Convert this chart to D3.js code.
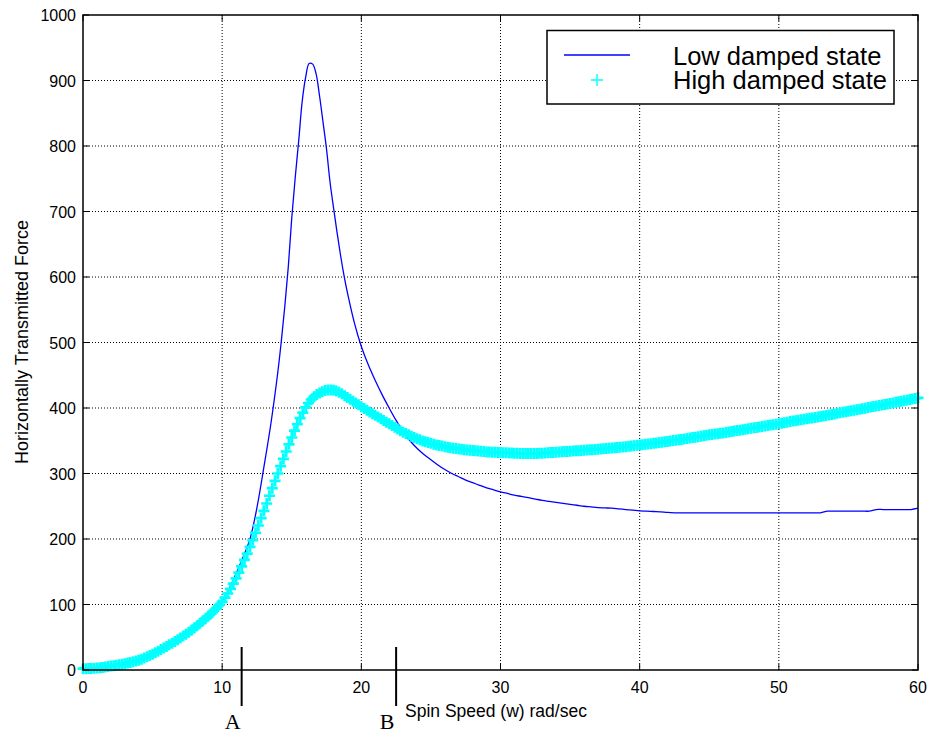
<!DOCTYPE html>
<html>
<head>
<meta charset="utf-8">
<script src="https://d3js.org/d3.v7.min.js"></script>
<style>
  html, body { margin: 0; padding: 0; background: #fff; }
  svg { display: block; }
  text { font-family: "Liberation Sans", Arial, Helvetica, sans-serif; fill: #000; }
</style>
</head>
<body>
<svg id="chart" width="929" height="735"></svg>
<script>
// Spin speed (rad/sec) sampling for each response curve
const lowSpeed = [
  ...d3.range(0, 14, 0.5),
  ...d3.range(14, 19, 0.25),
  ...d3.range(19, 60.001, 0.5)
];
const highSpeed = d3.range(0, 60.001, 0.2);

// Horizontally transmitted force, low damped state
const lowForce = [
  // 0 .. 13.5 (every 0.5)
  0, 0.3, 1, 2.3, 4, 6.2, 9, 12, 15.5, 19.5,
  24, 29, 35, 41, 48, 56, 64, 73, 83, 94,
  106, 124, 147, 172, 200, 248, 310, 376,
  // 14 .. 18.75 (every 0.25), resonance peak
  455, 502, 555, 615, 690, 752, 808, 868, 905, 926,
  925, 910, 876, 836, 795, 745, 706, 669, 634, 603,
  // 19 .. 60 (every 0.5)
  576, 530, 494, 466, 442, 420, 400, 381, 364, 350,
  338.5, 329, 321, 313, 306, 300, 295, 290, 286, 282,
  278, 275, 272, 269.5, 267, 265, 263, 261, 259, 257.5,
  256, 254.5, 253, 251.5, 250, 249, 248, 247.5, 247, 246,
  245, 244, 243, 242.5, 242, 241.5, 240.5,
  240, 240, 240, 240, 240, 240, 240, 240, 240, 240, 240,
  240, 240, 240, 240, 240, 240, 240, 240, 240, 240, 240,
  242.5, 242.5, 242.5, 242.5, 242.5, 242.5, 242.5,
  245, 245, 245, 245, 245, 245,
  247
];

// Horizontally transmitted force, high damped state (every 0.2 rad/sec)
const highForce = [
  2, 2, 2.1, 2.3, 2.6,
  3, 3.4, 3.9, 4.5, 5.2,
  6, 6.6, 7.3, 8, 8.7,
  9.5, 10.5, 11.5, 12.6, 13.8,
  15, 16.6, 18.3, 20.1, 22,
  24, 26.4, 28.8, 31.2, 33.6,
  36, 38.4, 40.8, 43.4, 46.2,
  49, 51.8, 54.6, 57.6, 60.8,
  64, 67.6, 71.2, 74.8, 78.4,
  82, 86, 90.3, 94.6, 99.2,
  104, 110.4, 116.8, 124, 132,
  140, 148.8, 158.2, 168, 177.6,
  188, 198.4, 209.4, 220.6, 231.8,
  243, 254.2, 266, 277.6, 288.8,
  300, 311.2, 322.4, 333.6, 344.6,
  355, 365.4, 375.2, 384.4, 393,
  401, 407.6, 413, 417.2, 420.8,
  423, 425, 426.6, 427.3, 427.4,
  427, 425.8, 424, 421.6, 418.8,
  416, 413.2, 410.4, 407.6, 404.8,
  402, 399.2, 396.6, 394, 391.4,
  389, 386.2, 383.6, 381, 378.4,
  376, 373.2, 370.6, 368, 365.4,
  363, 361, 359, 357, 355,
  353, 351.4, 349.8, 348.4, 347.2,
  346, 344.8, 343.7, 342.7, 341.8,
  341, 340.2, 339.4, 338.7, 338.1,
  337.5, 336.9, 336.4, 335.9, 335.4,
  335, 334.6, 334.2, 333.8, 333.4,
  333, 332.8, 332.6, 332.4, 332.2,
  332, 331.8, 331.6, 331.4, 331.2,
  331, 330.8, 330.7, 330.6, 330.5,
  330.5, 330.5, 330.6, 330.7, 330.8,
  331, 331.3, 331.6, 331.9, 332.2,
  332.5, 332.8, 333.1, 333.4, 333.7,
  334, 334.3, 334.6, 334.9, 335.2,
  335.5, 335.8, 336.1, 336.4, 336.7,
  337, 337.4, 337.8, 338.2, 338.6,
  339, 339.4, 339.8, 340.2, 340.6,
  341, 341.5, 342, 342.5, 343,
  343.5, 344, 344.5, 345, 345.5,
  346, 346.6, 347.2, 347.8, 348.4,
  349, 349.6, 350.2, 350.8, 351.4,
  352, 352.7, 353.4, 354.1, 354.8,
  355.5, 356.2, 356.9, 357.6, 358.3,
  359, 359.6, 360.2, 360.8, 361.4,
  362, 362.7, 363.4, 364.1, 364.8,
  365.5, 366.2, 366.9, 367.6, 368.3,
  369, 369.7, 370.4, 371.1, 371.8,
  372.5, 373.2, 373.9, 374.6, 375.3,
  376, 376.8, 377.6, 378.4, 379.2,
  380, 380.7, 381.4, 382.1, 382.8,
  383.5, 384.2, 384.9, 385.6, 386.3,
  387, 387.8, 388.6, 389.4, 390.2,
  391, 391.8, 392.6, 393.4, 394.2,
  395, 395.8, 396.6, 397.4, 398.2,
  399, 399.8, 400.6, 401.4, 402.2,
  403, 403.8, 404.6, 405.4, 406.2,
  407, 407.8, 408.6, 409.4, 410.2,
  411, 411.9, 412.8, 413.7, 414.6,
  415.5
];

const xTicks = [0, 10, 20, 30, 40, 50, 60];
const yTicks = [0, 100, 200, 300, 400, 500, 600, 700, 800, 900, 1000];
const seriesNames = ["Low damped state", "High damped state"];
const markerLabels = ["A", "B"];
const markerSpeeds = [11.4, 22.5];

const xLabel = "Spin Speed (w) rad/sec";
const yLabel = "Horizontally Transmitted Force";

const svg = d3.select("#chart");
const plot = { left: 83, top: 15, right: 918, bottom: 670 };

const x = d3.scaleLinear().domain([0, 60]).range([plot.left, plot.right]);
const y = d3.scaleLinear().domain([0, 1000]).range([plot.bottom, plot.top]);

// dotted grid
const grid = svg.append("g");
grid.selectAll("line.gx").data(xTicks.slice(1, -1)).enter().append("line")
  .attr("x1", d => x(d)).attr("x2", d => x(d))
  .attr("y1", plot.top).attr("y2", plot.bottom)
  .attr("stroke", "#000").attr("stroke-width", 1).attr("stroke-dasharray", "1,2");
grid.selectAll("line.gy").data(yTicks.slice(1, -1)).enter().append("line")
  .attr("x1", plot.left).attr("x2", plot.right)
  .attr("y1", d => y(d)).attr("y2", d => y(d))
  .attr("stroke", "#000").attr("stroke-width", 1).attr("stroke-dasharray", "1,2");

// low damped state: solid blue line
const line = d3.line()
  .x((d, i) => x(lowSpeed[i]))
  .y(d => y(d))
  .curve(d3.curveCatmullRom.alpha(0.5));
svg.append("path")
  .datum(lowForce)
  .attr("d", line)
  .attr("fill", "none")
  .attr("stroke", "#0000ff")
  .attr("stroke-width", 1.3);

// high damped state: cyan "+" markers
const plus = s => `M${-s},0H${s}M0,${-s}V${s}`;
svg.append("g").selectAll("path")
  .data(highForce).enter().append("path")
  .attr("transform", (d, i) => `translate(${x(highSpeed[i])},${y(d)})`)
  .attr("d", plus(5.5))
  .attr("fill", "none")
  .attr("stroke", "#00ffff")
  .attr("stroke-width", 2.7);

// axes box with inward ticks on all sides
const axes = svg.append("g");
axes.append("rect")
  .attr("x", plot.left).attr("y", plot.top)
  .attr("width", plot.right - plot.left).attr("height", plot.bottom - plot.top)
  .attr("fill", "none").attr("stroke", "#000").attr("stroke-width", 1.5);

const tickLen = 6;
xTicks.forEach(t => {
  axes.append("line").attr("x1", x(t)).attr("x2", x(t))
    .attr("y1", plot.bottom).attr("y2", plot.bottom - tickLen).attr("stroke", "#000");
  axes.append("line").attr("x1", x(t)).attr("x2", x(t))
    .attr("y1", plot.top).attr("y2", plot.top + tickLen).attr("stroke", "#000");
  axes.append("text").attr("x", x(t)).attr("y", 693)
    .attr("text-anchor", "middle").attr("font-size", 16).text(t);
});
yTicks.forEach(t => {
  axes.append("line").attr("x1", plot.left).attr("x2", plot.left + tickLen)
    .attr("y1", y(t)).attr("y2", y(t)).attr("stroke", "#000");
  axes.append("line").attr("x1", plot.right).attr("x2", plot.right - tickLen)
    .attr("y1", y(t)).attr("y2", y(t)).attr("stroke", "#000");
  axes.append("text").attr("x", 76).attr("y", y(t) + 6)
    .attr("text-anchor", "end").attr("font-size", 16).text(t);
});

// axis titles
svg.append("text")
  .attr("x", 405).attr("y", 717)
  .attr("font-size", 17.5)
  .text(xLabel);
svg.append("text")
  .attr("transform", "translate(28,342) rotate(-90)")
  .attr("text-anchor", "middle")
  .attr("font-size", 18)
  .text(yLabel);

// A / B speed markers below the axis
markerSpeeds.forEach((s, i) => {
  svg.append("line")
    .attr("x1", x(s)).attr("x2", x(s))
    .attr("y1", 647).attr("y2", 706)
    .attr("stroke", "#000").attr("stroke-width", 2);
  svg.append("text")
    .attr("x", x(s) - 9).attr("y", 729)
    .attr("text-anchor", "middle")
    .style("font-family", "'Liberation Serif', 'Times New Roman', serif")
    .attr("font-size", 22)
    .text(markerLabels[i]);
});

// legend
const lg = svg.append("g");
lg.append("rect")
  .attr("x", 547).attr("y", 30.5).attr("width", 347).attr("height", 73.5)
  .attr("fill", "#fff").attr("stroke", "#000").attr("stroke-width", 1.5);
lg.append("line")
  .attr("x1", 564).attr("x2", 630).attr("y1", 55).attr("y2", 55)
  .attr("stroke", "#0000ff").attr("stroke-width", 1.4);
lg.append("path")
  .attr("transform", "translate(597,80)")
  .attr("d", plus(6))
  .attr("fill", "none").attr("stroke", "#00ffff").attr("stroke-width", 1.4);
seriesNames.forEach((n, i) => {
  lg.append("text")
    .attr("x", 673).attr("y", 64.5 + i * 24)
    .attr("font-size", 25.5)
    .text(n);
});
</script>
</body>
</html>
